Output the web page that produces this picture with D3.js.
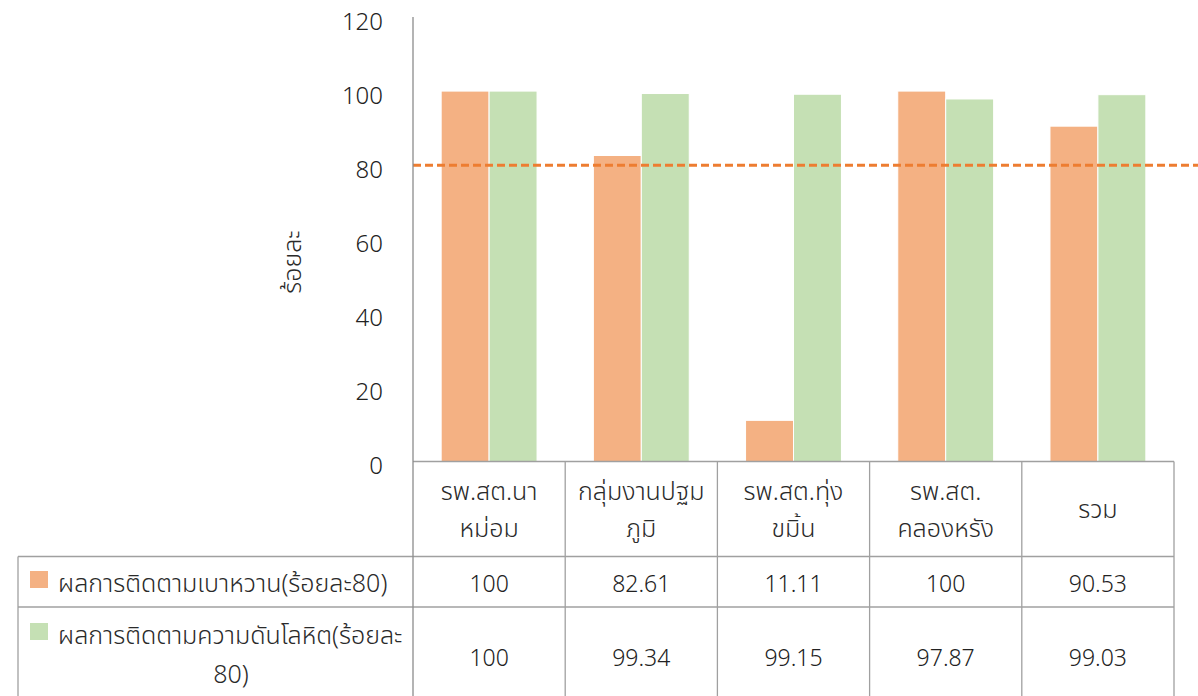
<!DOCTYPE html>
<html>
<head>
<meta charset="utf-8">
<script src="https://cdn.jsdelivr.net/npm/d3@7"></script>
<style>
  html, body { margin: 0; padding: 0; background: #fff; }
  svg { display: block; }
  text { font-family: "Noto Sans", "DejaVu Sans", sans-serif; font-weight: 300; fill: #222; }
  text.th { font-family: "Noto Sans Thai", "Noto Sans", sans-serif; font-weight: 300; fill: #2a2a2a; }
</style>
</head>
<body>
<svg id="chart" width="1198" height="696"></svg>
<script>
// Facilities (table columns); multi-line labels are split on "|"
const categories = ["รพ.สต.นา|หม่อม", "กลุ่มงานปฐม|ภูมิ", "รพ.สต.ทุ่ง|ขมิ้น", "รพ.สต.|คลองหรัง", "รวม"];
const seriesNames = ["ผลการติดตามเบาหวาน(ร้อยละ80)", "ผลการติดตามความดันโลหิต(ร้อยละ|80)"];
const diabetes = [100, 82.61, 11.11, 100, 90.53];
const hypertension = [100, 99.34, 99.15, 97.87, 99.03];
const diabetesText = ["100", "82.61", "11.11", "100", "90.53"];
const hypertensionText = ["100", "99.34", "99.15", "97.87", "99.03"];
const yTicks = [0, 20, 40, 60, 80, 100, 120];
const target = 80;
const yTitle = "ร้อยละ";

const colors = ["#F4B183", "#C5E0B4"];
const svg = d3.select("#chart");

const plotLeft = 413, plotRight = 1174, plotTop = 17, plotBottom = 461.5;
const tableLeft = 18, row1Bottom = 556.5, row2Bottom = 607, row3Bottom = 708;
const thaiSize = 25;

const x = d3.scaleBand().domain(d3.range(categories.length))
  .range([plotLeft, plotRight]).paddingInner(0.37).paddingOuter(0.185);
const xs = d3.scaleBand().domain([0, 1]).range([0, x.bandwidth()]);
const y = d3.scaleLinear().domain([0, 120]).range([plotBottom, plotTop]);

const series = [diabetes, hypertension];

// Bars
series.forEach((vals, s) => {
  svg.append("g").selectAll("rect").data(vals).join("rect")
    .attr("x", (d, i) => x(i) + xs(s))
    .attr("y", d => y(d))
    .attr("width", xs.bandwidth())
    .attr("height", d => y(0) - y(d))
    .attr("fill", colors[s])
    .attr("stroke", "#fff")
    .attr("stroke-width", 1);
});

// Target line
svg.append("line")
  .attr("x1", plotLeft).attr("x2", 1198)
  .attr("y1", y(target)).attr("y2", y(target))
  .attr("stroke", "#ED7D31").attr("stroke-width", 3)
  .attr("stroke-dasharray", "8,4");

// Y axis (labels only, the line is drawn below)
const yAxis = svg.append("g").attr("transform", `translate(${plotLeft},0)`)
  .call(d3.axisLeft(y).tickValues(yTicks).tickSize(0).tickPadding(30));
yAxis.select(".domain").remove();
yAxis.selectAll("text")
  .attr("font-size", 24).attr("fill", "#222")
  .attr("dy", "0.38em")
  .attr("transform", "translate(0,3)")
  .style("font-family", '"Noto Sans", sans-serif')
  .style("font-weight", 300);

// Axis title
svg.append("text").attr("class", "th")
  .attr("transform", "translate(293,262) rotate(-90)")
  .attr("text-anchor", "middle").attr("dominant-baseline", "central")
  .attr("font-size", 25).text(yTitle);

// Data table grid
const grid = svg.append("g").attr("stroke", "#A0A0A0").attr("stroke-width", 1.3);
const colEdges = d3.range(categories.length + 1).map(i => plotLeft + i * x.step());
grid.append("line").attr("x1", plotLeft).attr("x2", plotRight).attr("y1", plotBottom).attr("y2", plotBottom);
[row1Bottom, row2Bottom].forEach(yy =>
  grid.append("line").attr("x1", tableLeft).attr("x2", plotRight).attr("y1", yy).attr("y2", yy));
colEdges.slice(1).forEach(xx =>
  grid.append("line").attr("x1", xx).attr("x2", xx).attr("y1", plotBottom).attr("y2", row3Bottom));
grid.append("line").attr("x1", tableLeft).attr("x2", tableLeft).attr("y1", row1Bottom).attr("y2", row3Bottom);
// Value axis line, continuing down as the table's divider
svg.append("line").attr("x1", plotLeft).attr("x2", plotLeft)
  .attr("y1", plotTop).attr("y2", row3Bottom)
  .attr("stroke", "#8C8C8C").attr("stroke-width", 1.3);

// Category header cells
const catG = svg.append("g").attr("text-anchor", "middle").attr("font-size", thaiSize);
categories.forEach((c, i) => {
  const lines = c.split("|");
  const cx = x(i) + x.bandwidth() / 2;
  const centre = 510, lh = 37;
  lines.forEach((ln, k) => {
    catG.append("text").attr("class", "th").attr("x", cx)
      .attr("y", centre + (k - (lines.length - 1) / 2) * lh)
      .attr("dominant-baseline", "central").text(ln);
  });
});

// Value rows
const valG = svg.append("g").attr("text-anchor", "middle").attr("font-size", 23);
[[diabetesText, 583], [hypertensionText, 657]].forEach(([row, yy]) => {
  row.forEach((t, i) => {
    valG.append("text").attr("x", x(i) + x.bandwidth() / 2).attr("y", yy)
      .attr("dominant-baseline", "central").text(t);
  });
});

// Legend keys in the row headers
const legG = svg.append("g").attr("font-size", thaiSize);
[[0, 580], [1, 632]].forEach(([s, yy]) => {
  legG.append("rect").attr("x", 30).attr("y", yy - 9).attr("width", 18).attr("height", 17)
    .attr("fill", colors[s]);
});
legG.append("text").attr("class", "th").attr("x", 58).attr("y", 584).attr("dominant-baseline", "central")
  .text(seriesNames[0]);
const l2 = seriesNames[1].split("|");
legG.append("text").attr("class", "th").attr("x", 58).attr("y", 636).attr("dominant-baseline", "central").text(l2[0]);
legG.append("text").attr("class", "th").attr("x", 231).attr("y", 675).attr("text-anchor", "middle")
  .attr("dominant-baseline", "central").text(l2[1]);
</script>
</body>
</html>
